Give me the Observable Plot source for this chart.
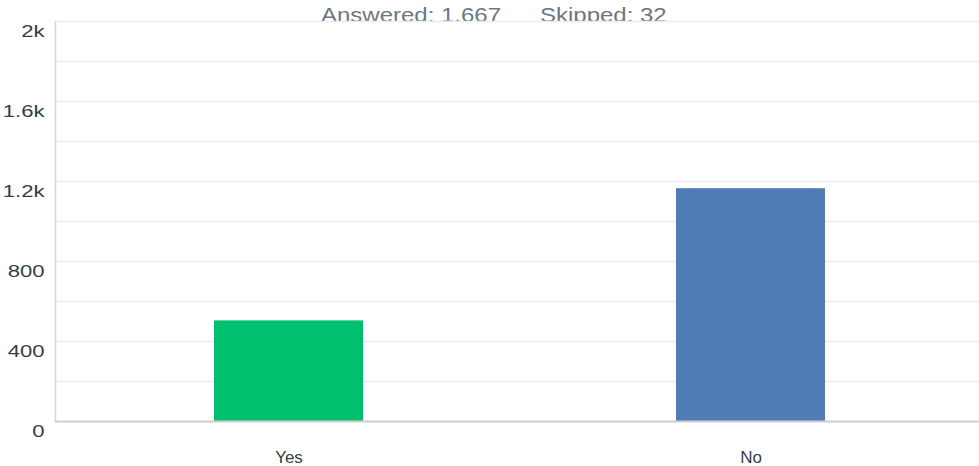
<!DOCTYPE html>
<html>
<head>
<meta charset="utf-8">
<script src="https://cdn.jsdelivr.net/npm/d3@7"></script>
<script src="https://cdn.jsdelivr.net/npm/@observablehq/plot@0.6"></script>
<style>
  html, body { margin: 0; padding: 0; background: #fff; overflow: hidden; }
  #chart svg { display: block; }
</style>
</head>
<body>
<div id="chart"></div>
<script>
// ---- data ----
const categories = ["Yes", "No"];
const counts = [503, 1164];
const barColors = ["#00bf6f", "#507cb6"];
const gridTicks = [0, 200, 400, 600, 800, 1000, 1200, 1400, 1600, 1800, 2000];
const labelTicks = [0, 400, 800, 1200, 1600, 2000];
const labelTexts = ["0", "400", "800", "1.2k", "1.6k", "2k"];
const summaryTexts = ["Answered: 1,667", "Skipped: 32"];

const data = categories.map((c, i) => ({category: c, count: counts[i]}));

const chart = Plot.plot({
  width: 979,
  height: 466,
  marginLeft: 55,
  marginRight: -5,
  marginTop: 21,
  marginBottom: 45,
  style: {
    fontFamily: "'Liberation Sans', Helvetica, Arial, sans-serif",
    fontSize: "17px",
    color: "#333e48",
    background: "#fff",
    overflow: "hidden"
  },
  x: {domain: categories, paddingInner: 0.678, paddingOuter: 0.343, axis: null},
  y: {domain: [0, 2000], axis: null},
  color: {domain: categories, range: barColors},
  marks: [
    Plot.text([summaryTexts[0]], {
      text: d => d, frameAnchor: "top", textAnchor: "end", lineAnchor: "middle",
      dx: -19, dy: -6, fontSize: 20, fill: "#6b7783", className: "summary-text"
    }),
    Plot.text([summaryTexts[1]], {
      text: d => d, frameAnchor: "top", textAnchor: "start", lineAnchor: "middle",
      dx: 20, dy: -6, fontSize: 20, fill: "#6b7783", className: "summary-text"
    }),
    Plot.frame({fill: "#fff", stroke: null}),
    Plot.gridY(gridTicks, {stroke: "#ececec", strokeOpacity: 1, strokeWidth: 1.5}),
    Plot.barY(data, {x: "category", y: "count", fill: "category"}),
    Plot.frame({anchor: "left", stroke: "#d6d6d6", strokeWidth: 1.5}),
    Plot.ruleY([0], {stroke: "#cfcfcf", strokeWidth: 2}),
    Plot.axisY(labelTicks, {
      label: null, tickSize: 0, tickPadding: 11, dy: 10, fontSize: 17, fill: "#333e48",
      tickFormat: d => labelTexts[labelTicks.indexOf(d)]
    }),
    Plot.axisX({label: null, tickSize: 0, tickPadding: 29, fontSize: 17, fill: "#333e48"})
  ]
});

document.getElementById("chart").appendChild(chart);

// horizontally widen text to match the reference's wide glyphs
function widen(selector, s) {
  chart.querySelectorAll(selector).forEach(t => {
    const tr = t.getAttribute("transform");
    if (tr) {
      t.setAttribute("transform", tr + ` scale(${s},1)`);
    } else {
      const x = +(t.getAttribute("x") || 0), y = +(t.getAttribute("y") || 0);
      t.setAttribute("transform", `translate(${x},${y}) scale(${s},1) translate(${-x},${-y})`);
    }
  });
}
widen('[aria-label="y-axis tick label"] text', 1.3);
widen('.summary-text text', 1.2);
</script>
</body>
</html>
